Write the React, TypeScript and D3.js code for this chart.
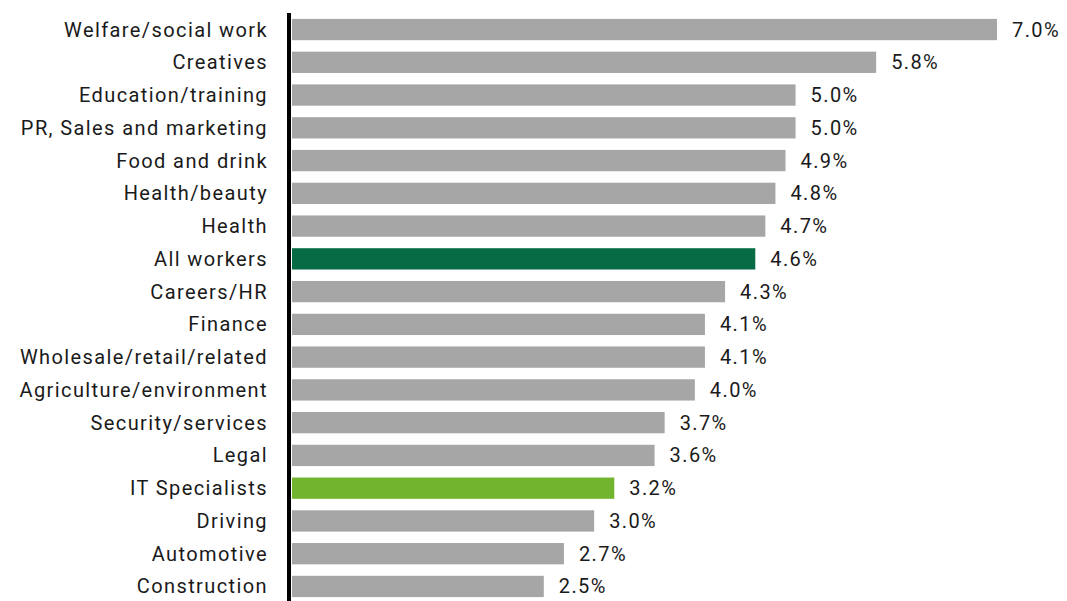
import React from 'react'
import * as d3 from 'd3'

const categories = [
  'Welfare/social work', 'Creatives', 'Education/training', 'PR, Sales and marketing',
  'Food and drink', 'Health/beauty', 'Health', 'All workers', 'Careers/HR', 'Finance',
  'Wholesale/retail/related', 'Agriculture/environment', 'Security/services', 'Legal',
  'IT Specialists', 'Driving', 'Automotive', 'Construction',
]
const values = [7.0, 5.8, 5.0, 5.0, 4.9, 4.8, 4.7, 4.6, 4.3, 4.1, 4.1, 4.0, 3.7, 3.6, 3.2, 3.0, 2.7, 2.5]
const highlight: Record<string, string> = {
  'All workers': '#076b45',
  'IT Specialists': '#72b42e',
}

const width = 1067
const height = 601
const font = 'Roboto, "DejaVu Sans", sans-serif'

export default function App() {
  const x = d3.scaleLinear().domain([0, 7]).range([292, 997])
  const y = d3.scaleBand<string>()
    .domain(categories)
    .range([13, 603])
    .paddingInner(0.35)
    .paddingOuter(0.18)

  return (
    <svg width={width} height={height} style={{ position: 'absolute', left: 0, top: 0 }}
      fontFamily={font}>
      <rect width={width} height={height} fill="#fff" />
      {categories.map((c, i) => {
        const yy = y(c) ?? 0
        const cy = yy + y.bandwidth() / 2
        return (
          <g key={c}>
            <rect x={x(0)} y={yy} width={x(values[i]) - x(0)} height={y.bandwidth()}
              fill={highlight[c] ?? '#a6a6a6'} />
            <text x={268} y={cy} dy="0.35em" textAnchor="end" fontSize={20} letterSpacing={1.4}
              fill="#1a1a1a">{c}</text>
            <text x={x(values[i]) + 15} y={cy} dy="0.35em" fontSize={20} letterSpacing={1.4}
              fill="#1a1a1a">
              {d3.format('.1f')(values[i]) + '%'}
            </text>
          </g>
        )
      })}
      {/* vertical axis line */}
      <line x1={289} x2={289} y1={13} y2={height} stroke="#000" strokeWidth={4} />
    </svg>
  )
}
